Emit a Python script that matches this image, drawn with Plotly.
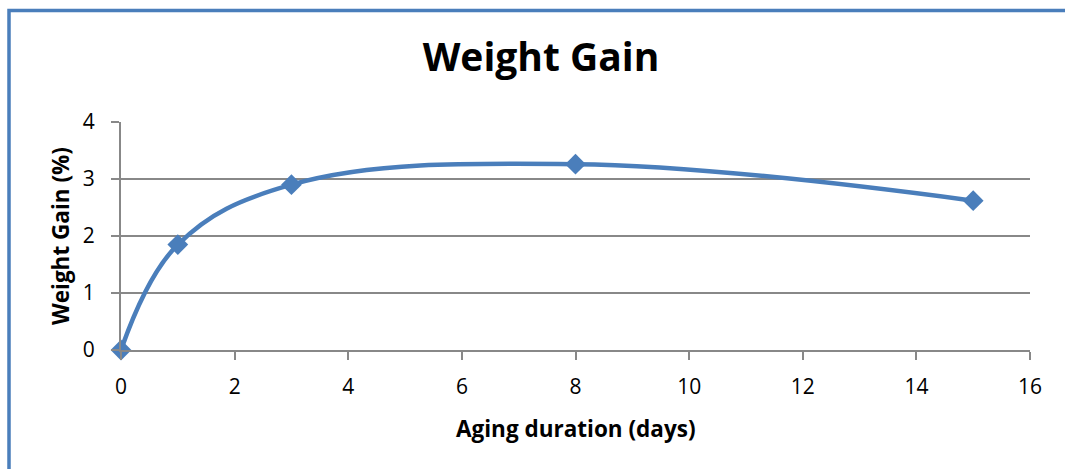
import plotly.graph_objects as go

# Aging duration (days) and measured weight gain (%)
days = [0, 1, 3, 8, 15]
weight_gain = [0, 1.85, 2.9, 3.26, 2.62]

x_ticks = [0, 2, 4, 6, 8, 10, 12, 14, 16]
y_ticks = [0, 1, 2, 3, 4]

BLUE = "#4A7EBB"
GRID = "#888888"
FONT = "Open Sans, Liberation Sans, sans-serif"

W, H = 1065, 469
L, R, T, B = 121, 35, 122, 119
pw, ph = W - L - R, H - T - B


def px_to_paper(px, py):
    """Convert page pixel position to paper coordinates."""
    return (px - L) / pw, (H - B - py) / ph


fig = go.Figure()
fig.add_trace(go.Scatter(
    x=days, y=weight_gain,
    mode="lines+markers",
    line=dict(color=BLUE, width=4.5, shape="spline", smoothing=1.1),
    marker=dict(symbol="diamond", size=16, color=BLUE),
    cliponaxis=False,
    showlegend=False,
))

# chart frame: only the top and left edges fall inside the page
fx0, fy_top = px_to_paper(9, 10.5)
fx1, fy_bot = px_to_paper(W + 20, H + 20)
fig.add_shape(type="rect", xref="paper", yref="paper",
              x0=fx0, y0=fy_bot, x1=fx1, y1=fy_top,
              line=dict(color=BLUE, width=3.5), layer="above")

# axis titles
xt_x, xt_y = px_to_paper(576, 428)
yt_x, yt_y = px_to_paper(60, 236)
fig.add_annotation(text="<b>Aging duration (days)</b>", xref="paper", yref="paper",
                   x=xt_x, y=xt_y, xanchor="center", yanchor="middle",
                   showarrow=False, font=dict(size=22.5, family=FONT, color="black"))
fig.add_annotation(text="<b>Weight Gain (%)</b>", xref="paper", yref="paper",
                   x=yt_x, y=yt_y, xanchor="center", yanchor="middle", textangle=-90,
                   showarrow=False, font=dict(size=22.5, family=FONT, color="black"))

fig.update_layout(
    width=W, height=H,
    margin=dict(l=L, r=R, t=T, b=B),
    paper_bgcolor="white", plot_bgcolor="white",
    title=dict(text="<b>Weight Gain</b>", x=541 / W, xanchor="center",
               y=1 - 57 / H, yanchor="middle",
               font=dict(family=FONT, size=39, color="black")),
    font=dict(family=FONT, color="black"),
)
fig.update_xaxes(
    range=[0, 16], tickvals=x_ticks, ticktext=[str(v) for v in x_ticks],
    showgrid=False, zeroline=False,
    showline=True, linecolor=GRID, linewidth=2,
    ticks="outside", ticklen=8, tickcolor=GRID, tickwidth=2,
    ticklabelstandoff=9,
    tickfont=dict(size=21, family=FONT),
)
fig.update_yaxes(
    range=[0, 4], tickvals=y_ticks, ticktext=[str(v) for v in y_ticks],
    showgrid=True, gridcolor=GRID, gridwidth=2, zeroline=False,
    showline=True, linecolor=GRID, linewidth=2,
    ticks="outside", ticklen=8, tickcolor=GRID, tickwidth=2,
    ticklabelstandoff=12,
    tickfont=dict(size=21, family=FONT),
)

fig.write_html("out.html")
